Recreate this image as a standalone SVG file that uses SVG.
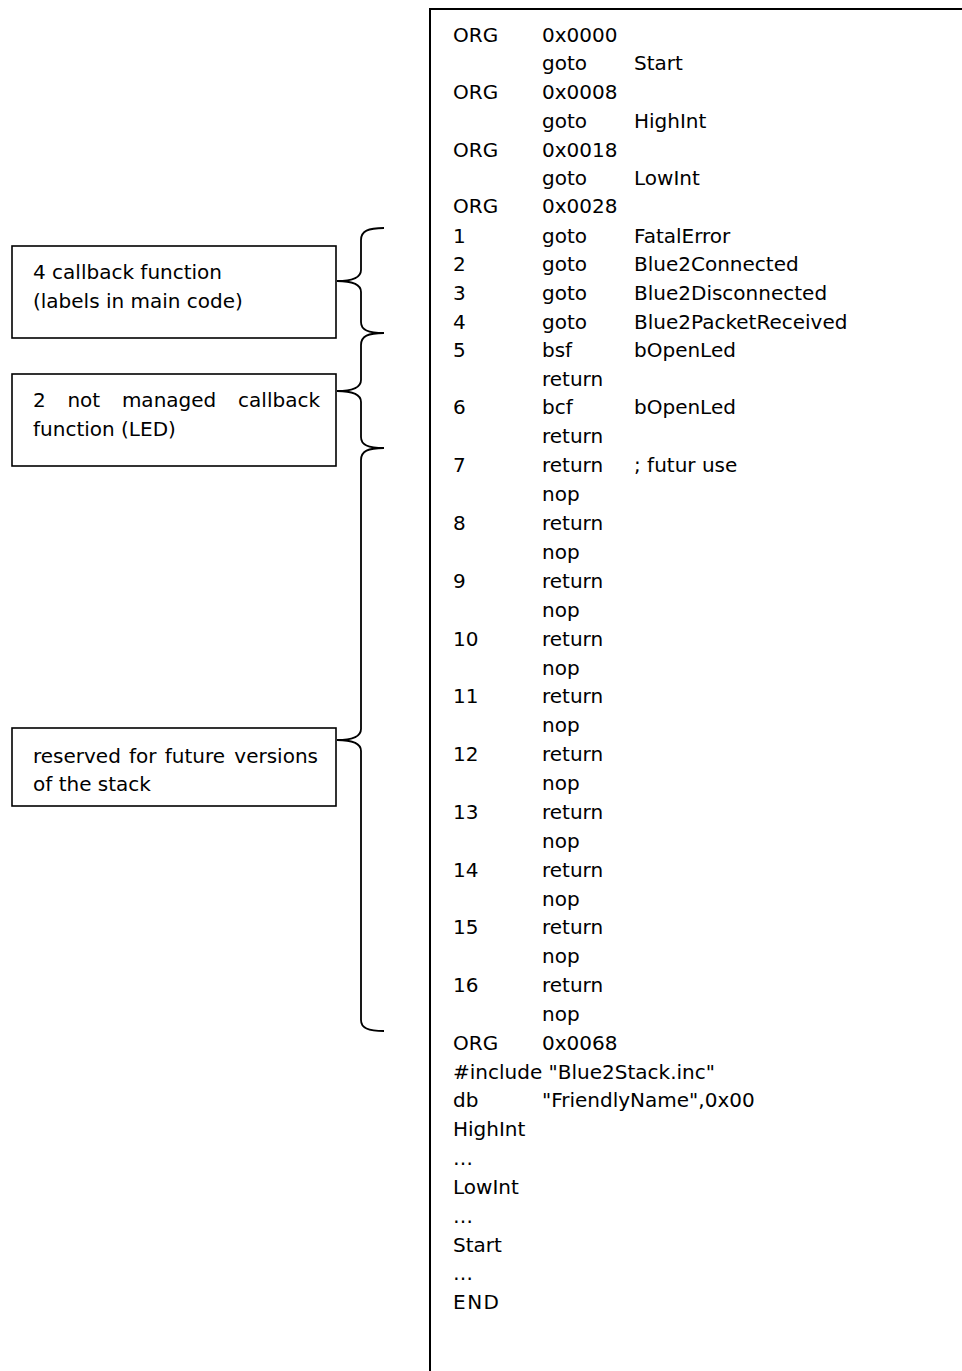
<svg xmlns="http://www.w3.org/2000/svg" width="962" height="1371" viewBox="0 0 962 1371">
<style>
text{font-family:"DejaVu Sans","Liberation Sans",sans-serif;font-size:20px;fill:#000}
.box{fill:#fff;stroke:#000;stroke-width:1.6}
.frame{fill:#fff;stroke:#000;stroke-width:2}
.brace{fill:none;stroke:#000;stroke-width:1.8}
</style>
<rect width="962" height="1371" fill="#fff"/>
<g id="code">
<rect class="frame" x="430" y="9" width="600" height="1420"/>
<text x="453" y="42">ORG</text><text x="542" y="42">0x0000</text>
<text x="542" y="70">goto</text><text x="634" y="70">Start</text>
<text x="453" y="99">ORG</text><text x="542" y="99">0x0008</text>
<text x="542" y="128">goto</text><text x="634" y="128">HighInt</text>
<text x="453" y="157">ORG</text><text x="542" y="157">0x0018</text>
<text x="542" y="185">goto</text><text x="634" y="185">LowInt</text>
<text x="453" y="213">ORG</text><text x="542" y="213">0x0028</text>
<text x="453" y="243">1</text><text x="542" y="243">goto</text><text x="634" y="243">FatalError</text>
<text x="453" y="271">2</text><text x="542" y="271">goto</text><text x="634" y="271">Blue2Connected</text>
<text x="453" y="300">3</text><text x="542" y="300">goto</text><text x="634" y="300">Blue2Disconnected</text>
<text x="453" y="329">4</text><text x="542" y="329">goto</text><text x="634" y="329">Blue2PacketReceived</text>
<text x="453" y="357">5</text><text x="542" y="357">bsf</text><text x="634" y="357">bOpenLed</text>
<text x="542" y="386">return</text>
<text x="453" y="414">6</text><text x="542" y="414">bcf</text><text x="634" y="414">bOpenLed</text>
<text x="542" y="443">return</text>
<text x="453" y="472">7</text><text x="542" y="472">return</text><text x="634" y="472">; futur use</text>
<text x="542" y="501">nop</text>
<text x="453" y="530">8</text><text x="542" y="530">return</text>
<text x="542" y="559">nop</text>
<text x="453" y="588">9</text><text x="542" y="588">return</text>
<text x="542" y="617">nop</text>
<text x="453" y="646">10</text><text x="542" y="646">return</text>
<text x="542" y="675">nop</text>
<text x="453" y="703">11</text><text x="542" y="703">return</text>
<text x="542" y="732">nop</text>
<text x="453" y="761">12</text><text x="542" y="761">return</text>
<text x="542" y="790">nop</text>
<text x="453" y="819">13</text><text x="542" y="819">return</text>
<text x="542" y="848">nop</text>
<text x="453" y="877">14</text><text x="542" y="877">return</text>
<text x="542" y="906">nop</text>
<text x="453" y="934">15</text><text x="542" y="934">return</text>
<text x="542" y="963">nop</text>
<text x="453" y="992">16</text><text x="542" y="992">return</text>
<text x="542" y="1021">nop</text>
<text x="453" y="1050">ORG</text><text x="542" y="1050">0x0068</text>
<text x="453" y="1079">#include "Blue2Stack.inc"</text>
<text x="453" y="1107">db</text><text x="542" y="1107">"FriendlyName",0x00</text>
<text x="453" y="1136">HighInt</text>
<text x="453" y="1165">…</text>
<text x="453" y="1194">LowInt</text>
<text x="453" y="1223">…</text>
<text x="453" y="1252">Start</text>
<text x="453" y="1280">…</text>
<text x="453" y="1309" letter-spacing="1.5">END</text>
</g>
<g id="box1">
<rect class="box" x="12" y="246" width="324" height="92"/>
<text x="33" y="279">4 callback function</text>
<text x="33" y="308">(labels in main code)</text>
</g>
<g id="box2">
<rect class="box" x="12" y="374" width="324" height="92"/>
<text x="33" y="407">2</text><text x="67.4" y="407">not</text><text x="121.9" y="407">managed</text><text x="320" y="407" text-anchor="end">callback</text>
<text x="33" y="436">function (LED)</text>
</g>
<g id="box3">
<rect class="box" x="12" y="728" width="324" height="78"/>
<text x="33" y="763">reserved</text><text x="129" y="763">for</text><text x="164.7" y="763">future</text><text x="318" y="763" text-anchor="end">versions</text>
<text x="33" y="791">of the stack</text>
</g>
<g id="connectors">
<path class="brace" d="M384,228 C368,228 361,231 361,240 L361,270 C361,278 352,281 337,281 C352,281 361,284 361,292 L361,322 C361,330 368,333 384,333"/>
<path class="brace" d="M384,333 C368,333 361,336 361,345 L361,380 C361,388 352,391 337,391 C352,391 361,394 361,402 L361,437 C361,445 368,448 384,448"/>
<path class="brace" d="M384,448 C368,448 361,451 361,460 L361,729 C361,737 352,740 337,740 C352,740 361,743 361,751 L361,1020 C361,1028 368,1031 384,1031"/>
</g>
</svg>
